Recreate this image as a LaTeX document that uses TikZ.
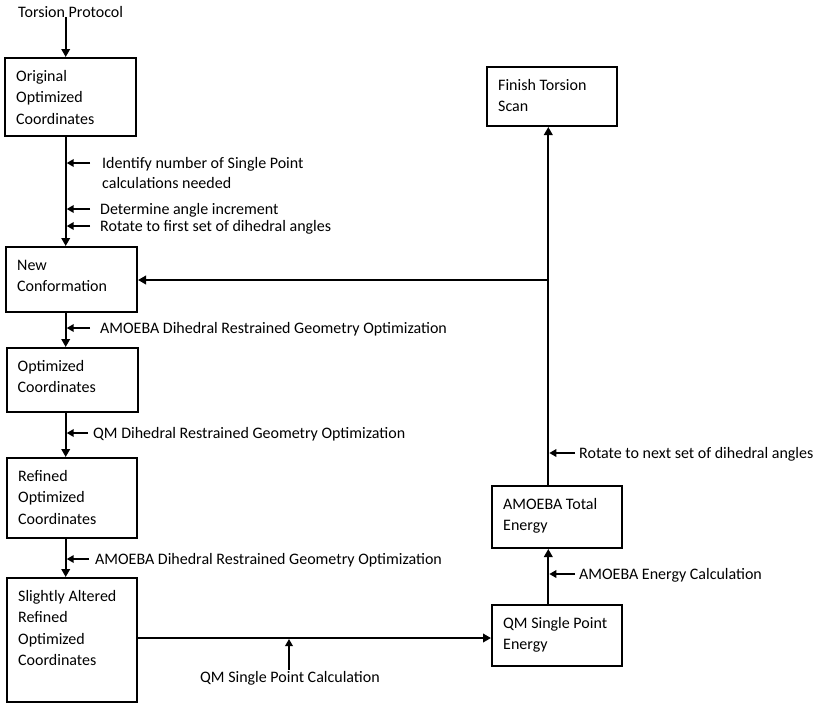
\documentclass[tikz,border=0pt]{standalone}
\usepackage{fontspec}
\setmainfont{Carlito}
\usetikzlibrary{arrows.meta,calc}
\newcommand\fs{\fontsize{16}{21.5}\selectfont}
\newcommand\fsl{\fontsize{16}{20}\selectfont}
\begin{document}
\begin{tikzpicture}[x=1pt,y=-1pt,
  box/.style={draw, line width=2pt, rectangle, inner sep=0pt},
  txt/.style={inner sep=0pt, align=left, font=\fs},
  arr/.style={line width=2pt, -{Triangle[length=8pt,width=8.5pt]}},
  sarr/.style={line width=2pt, -{Triangle[length=7pt,width=7.5pt]}}]
\useasboundingbox (0,0) rectangle (821,712);
% column / row coordinates
\coordinate (cA) at (65.7,0);
\coordinate (cB) at (548.3,0);
\coordinate (rQ) at (0,638);
\coordinate (jn) at (548.3,280);
% boxes
\node[box, minimum width=131pt, minimum height=78pt] (b1) at (70.5,97) {};
\node[box, minimum width=131pt, minimum height=65pt] (b2) at (71.5,279.5) {};
\node[box, minimum width=131pt, minimum height=64pt] (b3) at (72,380) {};
\node[box, minimum width=130pt, minimum height=80pt] (b4) at (72,498) {};
\node[box, minimum width=130pt, minimum height=124pt] (b5) at (72,640) {};
\node[box, minimum width=130pt, minimum height=59pt] (fin) at (552,96.5) {};
\node[box, minimum width=130pt, minimum height=62pt] (am) at (557,517) {};
\node[box, minimum width=130pt, minimum height=61pt] (qm) at (557,635.5) {};
% box texts
\node[txt, anchor=north west] (t1) at ($(b1.north west)+(12,9)$) {\strut Original\\Optimized\\Coordinates};
\node[txt, anchor=north west] (t2) at ($(b2.north west)+(12,9)$) {\strut New\\Conformation};
\node[txt, anchor=north west] (t3) at ($(b3.north west)+(12,9)$) {\strut Optimized\\Coordinates};
\node[txt, anchor=north west] (t4) at ($(b4.north west)+(12,9)$) {\strut Refined\\Optimized\\Coordinates};
\node[txt, anchor=north west] (t5) at ($(b5.north west)+(12,9)$) {\strut Slightly Altered\\Refined\\Optimized\\Coordinates};
\node[txt, anchor=north west] (tf) at ($(fin.north west)+(12,9)$) {\strut Finish Torsion\\Scan};
\node[txt, anchor=north west] (ta) at ($(am.north west)+(12,9)$) {\strut AMOEBA Total\\Energy};
\node[txt, anchor=north west] (tq) at ($(qm.north west)+(12,9)$) {\strut QM Single Point\\Energy};
% start label
\node[txt, anchor=base west] (tp) at (18,17) {Torsion Protocol};
% main connectors
\draw[arr] (tp.south -| cA) -- (b1.north -| cA);
\draw[arr] (b1.south -| cA) -- (b2.north -| cA);
\draw[arr] (b2.south -| cA) -- (b3.north -| cA);
\draw[arr] (b3.south -| cA) -- (b4.north -| cA);
\draw[arr] (b4.south -| cA) -- (b5.north -| cA);
\draw[arr] (b5.east |- rQ) -- (qm.west |- rQ);
\draw[arr] (qm.north -| cB) -- (am.south -| cB);
\draw[arr] (am.north -| cB) -- (fin.south -| cB);
\draw[arr] (jn) -- (b2.east |- jn);
% side labels
\node[txt, anchor=north west, font=\fsl] (l1) at (102,154) {\strut Identify number of Single Point\\calculations needed};
\node[txt, anchor=base west] (l2) at (100,214) {Determine angle increment};
\node[txt, anchor=base west] (l3) at (100,231) {Rotate to first set of dihedral angles};
\node[txt, anchor=base west] (l4) at (100,333) {AMOEBA Dihedral Restrained Geometry Optimization};
\node[txt, anchor=base west] (l5) at (93,438) {QM Dihedral Restrained Geometry Optimization};
\node[txt, anchor=base west] (l6) at (95,564) {AMOEBA Dihedral Restrained Geometry Optimization};
\node[txt, anchor=base] (l7) at (290,682) {QM Single Point Calculation};
\node[txt, anchor=base west] (l8) at (579,579) {AMOEBA Energy Calculation};
\node[txt, anchor=base west] (l9) at (579,458) {Rotate to next set of dihedral angles};
% side arrows
\coordinate (s1) at (90,163);
\coordinate (s2) at (90,209);
\coordinate (s3) at (90,226);
\coordinate (s4) at (90,328);
\coordinate (s5) at (88,433);
\coordinate (s6) at (89,559);
\coordinate (s7) at (289,670);
\coordinate (s8) at (575,574);
\coordinate (s9) at (575,453);
\draw[sarr] (s1) -- ($(s1 -| cA)+(1,0)$);
\draw[sarr] (s2) -- ($(s2 -| cA)+(1,0)$);
\draw[sarr] (s3) -- ($(s3 -| cA)+(1,0)$);
\draw[sarr] (s4) -- ($(s4 -| cA)+(1,0)$);
\draw[sarr] (s5) -- ($(s5 -| cA)+(1,0)$);
\draw[sarr] (s6) -- ($(s6 -| cA)+(1,0)$);
\draw[sarr] (s7) -- ($(s7 |- rQ)+(0,1)$);
\draw[sarr] (s8) -- ($(s8 -| cB)+(1,0)$);
\draw[sarr] (s9) -- ($(s9 -| cB)+(1,0)$);
\end{tikzpicture}
\end{document}
